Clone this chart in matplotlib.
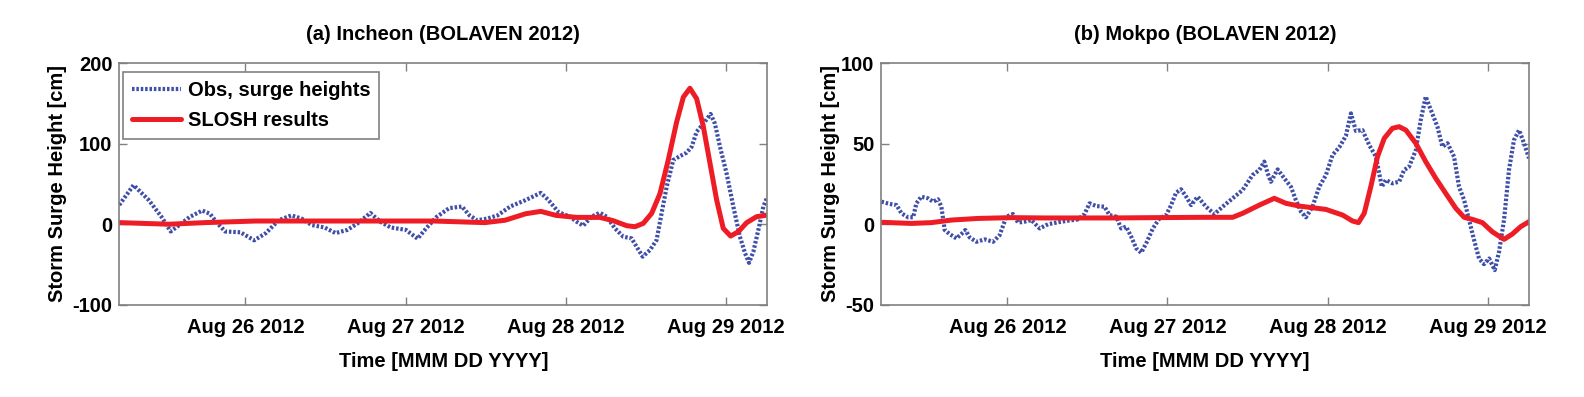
import numpy as np
import pandas as pd
import matplotlib
matplotlib.use("Agg")
import matplotlib.pyplot as plt

# ---------------- data (time in days since 2012-08-25 00:00) ----------------
base = pd.Timestamp("2012-08-25 00:00")

inch_obs_t = [0.213, 0.302, 0.397, 0.477, 0.534, 0.588, 0.652, 0.731, 0.779, 0.826,
              0.874, 0.969, 1.055, 1.128, 1.208, 1.287, 1.351, 1.414, 1.494, 1.563,
              1.637, 1.700, 1.780, 1.843, 1.907, 2.002, 2.075, 2.129, 2.193, 2.272,
              2.352, 2.399, 2.447, 2.510, 2.574, 2.653, 2.749, 2.844, 2.892, 2.955,
              3.026, 3.068, 3.109, 3.161, 3.213, 3.255, 3.307, 3.359, 3.411, 3.442,
              3.480, 3.526, 3.567, 3.598, 3.630, 3.671, 3.713, 3.754, 3.786, 3.817,
              3.859, 3.904, 3.931, 3.963, 4.004, 4.046, 4.087, 4.119, 4.144, 4.171,
              4.202, 4.233, 4.258]
inch_obs_v = [24, 48.6, 30, 9, -9, -1, 9, 17, 13, 1,
              -9, -10, -20, -11, 5, 11, 7, -1, -4, -11,
              -7, 1, 14, 3, -4, -7, -18, -5, 9, 20,
              22, 11, 5, 7, 11, 22, 30, 39, 30, 15,
              9.4, 3.1, -1.8, 9.4, 14.3, 9.4, -5.1, -15.5, -17.6, -27.9,
              -40.3, -32, -19.6, 13.5, 46.6, 79.8, 84.7, 88.9, 96.3, 115,
              125, 137, 125, 96, 63, 22, -15.5, -36, -48, -34,
              -7.2, 21.7, 34]

inch_slosh_t = [0.213, 0.524, 0.747, 1.065, 1.700, 2.177, 2.495, 2.622, 2.749, 2.844,
                2.939, 3.068, 3.213, 3.296, 3.380, 3.432, 3.484, 3.536, 3.588, 3.640,
                3.692, 3.734, 3.775, 3.817, 3.859, 3.900, 3.942, 3.983, 4.029, 4.077,
                4.129, 4.191, 4.258]
inch_slosh_v = [2, 0, 2, 4, 4, 4, 2, 5, 13, 16,
                11, 8.5, 8.5, 4.4, -1.8, -3.1, 1.1, 13.5, 38, 80,
                127, 158, 169, 156, 121, 76, 30, -5.1, -14.7, -9.3,
                1.9, 9.4, 11.4]

mok_obs_t = [0.214, 0.266, 0.308, 0.339, 0.380, 0.412, 0.432, 0.463, 0.505, 0.536,
             0.567, 0.588, 0.609, 0.640, 0.682, 0.713, 0.738, 0.765, 0.807, 0.859,
             0.911, 0.952, 0.994, 1.035, 1.067, 1.108, 1.150, 1.202, 1.254, 1.316,
             1.378, 1.441, 1.482, 1.514, 1.555, 1.607, 1.638, 1.680, 1.711, 1.742,
             1.774, 1.805, 1.836, 1.867, 1.909, 1.950, 1.992, 2.023, 2.054, 2.085,
             2.117, 2.148, 2.189, 2.241, 2.293, 2.345, 2.407, 2.470, 2.532, 2.574,
             2.605, 2.626, 2.646, 2.688, 2.730, 2.771, 2.802, 2.834, 2.865, 2.906,
             2.948, 2.990, 3.031, 3.073, 3.114, 3.146, 3.177, 3.218, 3.260, 3.302,
             3.339, 3.364, 3.405, 3.447, 3.478, 3.509, 3.551, 3.582, 3.613, 3.645,
             3.686, 3.717, 3.749, 3.790, 3.821, 3.853, 3.884, 3.915, 3.946, 3.977,
             4.009, 4.044, 4.071, 4.102, 4.133, 4.164, 4.196, 4.227, 4.258]
mok_obs_v = [14, 12.6, 11.9, 6.8, 4.3, 4.3, 13, 17.1, 16.1, 14,
             15.5, 10.9, -3.6, -6.1, -8.8, -6.1, -3.6, -8.2, -10.9, -9.4,
             -10.9, -6.8, 4.7, 6.3, 1, 1.6, 2.6, -2.6, 0, 1.2,
             2.2, 3, 6.3, 13, 11.3, 10.9, 5.7, 4.7, -2.6, -1.5,
             -7.8, -15, -17.7, -11.9, -2.6, 3.6, 5.7, 11.9, 19.6, 21.7,
             17.1, 11.9, 17.1, 10.9, 6.3, 10.9, 16.1, 21.3, 30.6, 33.7,
             38.9, 31.6, 26.4, 34.1, 28.5, 23.3, 15, 7.8, 4.3, 10.9,
             23.3, 30.6, 43, 47.8, 54.8, 68.9, 58, 58.5, 49.2, 42,
             23.3, 27.5, 25.4, 26.4, 33.7, 35.7, 46, 64.8, 79.3, 71,
             60.6, 48.2, 50.3, 42, 23.3, 15, 2.6, -9.8, -21.3, -24.8,
             -21.3, -28.5, -17.1, 2.6, 33.7, 52.3, 58.5, 50.3, 41]

mok_slosh_t = [0.214, 0.401, 0.526, 0.651, 0.817, 1.025, 1.233, 1.649, 2.221, 2.407,
               2.470, 2.574, 2.667, 2.740, 2.823, 2.990, 3.094, 3.156, 3.193, 3.229,
               3.270, 3.312, 3.354, 3.405, 3.447, 3.489, 3.551, 3.613, 3.676, 3.738,
               3.801, 3.853, 3.905, 3.967, 4.029, 4.102, 4.154, 4.206, 4.258]
mok_slosh_v = [1.2, 0.5, 1, 2.6, 3.6, 4.1, 3.9, 3.9, 4.3, 4.3,
               6.8, 11.9, 16.1, 13, 11.3, 9.2, 5.7, 2, 1, 6.8,
               23.3, 42, 53.4, 59.6, 60.6, 58.5, 50.3, 38.9, 28.5, 19.2,
               9.9, 4.3, 3, 1, -4.7, -9.4, -6.1, -1.5, 1.6]

titles = ["(a) Incheon (BOLAVEN 2012)", "(b) Mokpo (BOLAVEN 2012)"]
ylims = [(-100, 200), (-50, 100)]
yticks = [[-100, 0, 100, 200], [-50, 0, 50, 100]]
tick_days = [1, 2, 3, 4]
tick_labels = ["Aug 26 2012", "Aug 27 2012", "Aug 28 2012", "Aug 29 2012"]
xlim_days = (0.213, 4.258)
series_names = ["Obs, surge heights", "SLOSH results"]
ylabel = "Storm Surge Height [cm]"
xlabel = "Time [MMM DD YYYY]"

# ---------------- plotting ----------------
plt.rcParams['font.family'] = ['Liberation Sans', 'DejaVu Sans']
plt.rcParams['font.weight'] = 'bold'
plt.rcParams['axes.unicode_minus'] = False

def to_dt(days):
    return base + pd.to_timedelta(np.asarray(days, dtype=float), unit="D")

fig = plt.figure(figsize=(15.84, 3.97), dpi=100)
ax1 = fig.add_axes([119.3 / 1584, (397 - 304.7) / 397, 648 / 1584, 241.4 / 397])
ax2 = fig.add_axes([881.3 / 1584, (397 - 304.7) / 397, 647.7 / 1584, 241.4 / 397])

blue = '#3f4fa8'
red = '#ee1c25'
grey = '#808080'
fs = 14.5
ylabelpads = [3.5, 0.5]

data = [(inch_obs_t, inch_obs_v, inch_slosh_t, inch_slosh_v),
        (mok_obs_t, mok_obs_v, mok_slosh_t, mok_slosh_v)]

for i, ax in enumerate([ax1, ax2]):
    ot, ov, st, sv = data[i]
    ax.plot(to_dt(ot), ov, color=blue, lw=3.0, linestyle=(0, (0.6, 0.45)),
            dash_capstyle='butt', label=series_names[0])
    ax.plot(to_dt(st), sv, color=red, lw=3.6, solid_capstyle='round',
            solid_joinstyle='round', label=series_names[1])
    ax.set_xlim(to_dt(xlim_days[0]), to_dt(xlim_days[1]))
    ax.set_ylim(*ylims[i])
    ax.set_yticks(yticks[i])
    ax.set_xticks(to_dt(tick_days))
    ax.set_xticklabels(tick_labels)
    ax.tick_params(direction='in', length=6, width=1, color=grey,
                   top=True, right=True, labelsize=fs)
    ax.tick_params(axis='x', pad=9.5)
    ax.tick_params(axis='y', pad=5)
    for lab in ax.get_xticklabels() + ax.get_yticklabels():
        lab.set_fontweight('bold')
    for s in ax.spines.values():
        s.set_color(grey)
        s.set_linewidth(1.2)
    ax.set_title(titles[i], fontsize=fs, fontweight='bold', pad=17)
    ax.set_xlabel(xlabel, fontsize=fs, fontweight='bold', labelpad=11)
    ax.set_ylabel(ylabel, fontsize=fs, fontweight='bold', labelpad=ylabelpads[i])

leg = ax1.legend(loc='upper left', bbox_to_anchor=(0.006, 0.963), borderaxespad=0,
                 fancybox=False, framealpha=1, edgecolor=grey, fontsize=fs,
                 handlelength=2.4, handletextpad=0.35, borderpad=0.45,
                 labelspacing=0.55)
leg.get_frame().set_linewidth(1.2)
for t in leg.get_texts():
    t.set_fontweight('bold')

fig.savefig("out.png", dpi=100)
